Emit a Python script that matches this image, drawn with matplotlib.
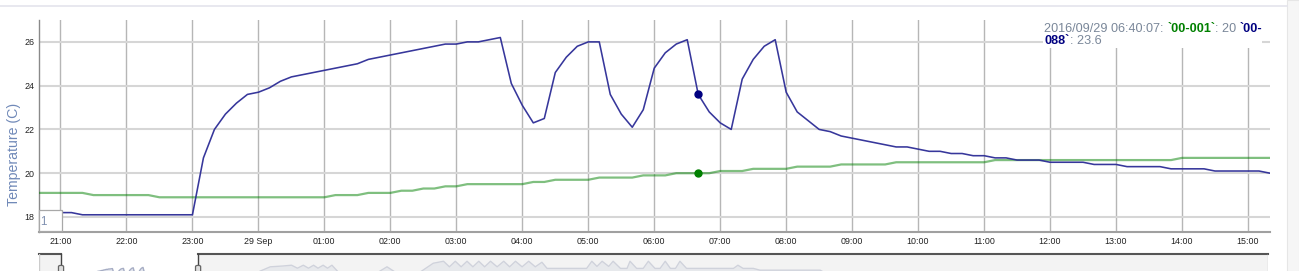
import matplotlib
matplotlib.use("Agg")
import matplotlib.pyplot as plt
import matplotlib.dates as mdates
from matplotlib.patches import Rectangle, FancyBboxPatch
from matplotlib.lines import Line2D
from matplotlib.font_manager import FontProperties
import numpy as np
import pandas as pd

plt.rcParams['font.family'] = ['Liberation Sans', 'DejaVu Sans']

W, H = 1299, 271

# ---------------- data ----------------
sample_start = "2016-09-28 20:40:07"
sample_step = "10min"
series_names = ["00-001", "00-088"]

temp_001 = [
    19.1, 19.1,
    19.1, 19.1, 19.1, 19.0, 19.0, 19.0,
    19.0, 19.0, 19.0, 18.9, 18.9, 18.9,
    18.9, 18.9, 18.9, 18.9, 18.9, 18.9,
    18.9, 18.9, 18.9, 18.9, 18.9, 18.9,
    18.9, 19.0, 19.0, 19.0, 19.1, 19.1,
    19.1, 19.2, 19.2, 19.3, 19.3, 19.4,
    19.4, 19.5, 19.5, 19.5, 19.5, 19.5,
    19.5, 19.6, 19.6, 19.7, 19.7, 19.7,
    19.7, 19.8, 19.8, 19.8, 19.8, 19.9,
    19.9, 19.9, 20.0, 20.0, 20.0, 20.0,
    20.1, 20.1, 20.1, 20.2, 20.2, 20.2,
    20.2, 20.3, 20.3, 20.3, 20.3, 20.4,
    20.4, 20.4, 20.4, 20.4, 20.5, 20.5,
    20.5, 20.5, 20.5, 20.5, 20.5, 20.5,
    20.5, 20.6, 20.6, 20.6, 20.6, 20.6,
    20.6, 20.6, 20.6, 20.6, 20.6, 20.6,
    20.6, 20.6, 20.6, 20.6, 20.6, 20.6,
    20.7, 20.7, 20.7, 20.7, 20.7, 20.7,
    20.7, 20.7, 20.7,
]

temp_088 = [
    18.2, 18.2,
    18.2, 18.2, 18.1, 18.1, 18.1, 18.1,
    18.1, 18.1, 18.1, 18.1, 18.1, 18.1,
    18.1, 20.7, 22.0, 22.7, 23.2, 23.6,
    23.7, 23.9, 24.2, 24.4, 24.5, 24.6,
    24.7, 24.8, 24.9, 25.0, 25.2, 25.3,
    25.4, 25.5, 25.6, 25.7, 25.8, 25.9,
    25.9, 26.0, 26.0, 26.1, 26.2, 24.1,
    23.1, 22.3, 22.5, 24.6, 25.3, 25.8,
    26.0, 26.0, 23.6, 22.7, 22.1, 22.9,
    24.8, 25.5, 25.9, 26.1, 23.6, 22.8,
    22.3, 22.0, 24.3, 25.2, 25.8, 26.1,
    23.7, 22.8, 22.4, 22.0, 21.9, 21.7,
    21.6, 21.5, 21.4, 21.3, 21.2, 21.2,
    21.1, 21.0, 21.0, 20.9, 20.9, 20.8,
    20.8, 20.7, 20.7, 20.6, 20.6, 20.6,
    20.5, 20.5, 20.5, 20.5, 20.4, 20.4,
    20.4, 20.3, 20.3, 20.3, 20.3, 20.2,
    20.2, 20.2, 20.2, 20.1, 20.1, 20.1,
    20.1, 20.1, 20.0,
]

tick_times = ["2016-09-28 21:00", "2016-09-28 22:00", "2016-09-28 23:00",
              "2016-09-29 00:00", "2016-09-29 01:00", "2016-09-29 02:00",
              "2016-09-29 03:00", "2016-09-29 04:00", "2016-09-29 05:00",
              "2016-09-29 06:00", "2016-09-29 07:00", "2016-09-29 08:00",
              "2016-09-29 09:00", "2016-09-29 10:00", "2016-09-29 11:00",
              "2016-09-29 12:00", "2016-09-29 13:00", "2016-09-29 14:00",
              "2016-09-29 15:00"]
tick_labels = ["21:00", "22:00", "23:00", "29 Sep", "01:00", "02:00", "03:00",
               "04:00", "05:00", "06:00", "07:00", "08:00", "09:00", "10:00",
               "11:00", "12:00", "13:00", "14:00", "15:00"]
y_ticks = [18, 20, 22, 24, 26]
y_label = "Temperature (C)"
highlight_index = 60          # 2016/09/29 06:40:07
highlight_label = "2016/09/29 06:40:07"
roll_period = "1"

# overview (range selector) data, hours relative to sample_start
overview_before_hours = [-3.07, -0.2]
overview_before_values = [18.6, 18.6]
overview_after_hours = [19.0, 25.5, 27.1, 28.5, 30.2, 31.4, 32.2, 33.0, 33.7, 34.4,
                        35.0, 35.7, 36.3, 36.9, 38.0, 42.8, 44.4, 45.9, 48.5, 49.1,
                        50.7, 52.1, 52.9, 53.7, 54.5, 55.3, 56.1, 56.9, 57.7, 58.5,
                        59.4, 60.3, 61.1, 61.9, 62.8, 63.7, 64.6, 65.5, 66.2, 71.6,
                        72.3, 73.0, 73.7, 74.6, 75.2, 76.2, 77.1, 77.5, 78.4, 79.3,
                        80.0, 80.9, 81.6, 82.3, 83.0, 83.7, 84.3, 85.2, 91.6, 92.2,
                        92.9, 94.3, 95.2, 103.4, 104.8, 164.4]
overview_after_values = [20.3, 20.5, 22.2, 23.3, 23.5, 23.7, 22.95, 23.7, 22.95, 23.7,
                         22.95, 23.7, 22.95, 23.7, 21.5, 21.5, 23.3, 21.5, 21.5, 22.2,
                         24.2, 24.7, 23.3, 24.7, 23.3, 24.7, 23.3, 24.7, 23.3, 24.7,
                         23.3, 24.7, 23.3, 24.7, 23.3, 24.7, 23.3, 24.45, 22.9, 22.9,
                         24.7, 23.4, 24.7, 23.4, 24.7, 22.9, 22.9, 24.7, 22.9, 22.9,
                         24.7, 22.9, 22.9, 24.7, 22.9, 22.9, 24.7, 22.9, 22.9, 23.7,
                         22.9, 22.9, 22.45, 22.45, 21.0, 20.5]

# ---------------- helpers ----------------
def fx(px):
    return px / W

def fy(py):
    return (H - py) / H

times = pd.date_range(sample_start, periods=len(temp_088), freq=sample_step)
tnum = mdates.date2num(times.to_pydatetime())

fig = plt.figure(figsize=(W / 100, H / 100), dpi=100)
fig.patch.set_facecolor("white")

# page decorations
fig.add_artist(Line2D([0, fx(1287)], [fy(6), fy(6)], color="#e4e4ec", lw=1.2,
                      transform=fig.transFigure))
fig.patches.append(Rectangle((fx(1287), 0), fx(W) - fx(1287), 1,
                             transform=fig.transFigure, facecolor="#f6f6f6",
                             edgecolor="#e6e6e6", lw=0.8, zorder=0))

# ---------------- main axes ----------------
ax_l, ax_r, ax_t, ax_b = 38.5, 1270, 20, 232.3
ax = fig.add_axes([fx(ax_l), fy(ax_b), fx(ax_r) - fx(ax_l), fy(ax_t) - fy(ax_b)])
ax.set_facecolor("white")

ax.plot(tnum, temp_001, color="#008000", alpha=0.5, lw=1.6, zorder=3,
        solid_joinstyle="round")
ax.plot(tnum, temp_088, color="#2c2c96", lw=1.15, zorder=4, alpha=0.95,
        solid_joinstyle="round")
ax.plot([tnum[highlight_index]], [temp_001[highlight_index]], "o", color="#008000",
        ms=5, zorder=5)
ax.plot([tnum[highlight_index]], [temp_088[highlight_index]], "o", color="#000080",
        ms=5, zorder=5)

ax.set_xlim(tnum[0], tnum[-1])
ax.set_ylim(17.3, 27.0)

tick_nums = mdates.date2num(pd.to_datetime(tick_times).to_pydatetime())
ax.set_xticks(tick_nums)
ax.set_xticklabels(tick_labels)
ax.set_yticks(y_ticks)
ax.set_yticklabels([str(v) for v in y_ticks])
ax.tick_params(length=0, labelsize=6.4, colors="#222222")
ax.tick_params(axis="x", pad=3.2)
ax.tick_params(axis="y", pad=3.0)

ax.grid(axis="y", color="#d6d6d6", lw=1.5, zorder=1)
ax.grid(axis="x", color="#b6b6b6", lw=1.0, zorder=1)
ax.set_axisbelow(True)

for s in ["top", "right"]:
    ax.spines[s].set_visible(False)
ax.spines["left"].set_color("#8a8a8a")
ax.spines["left"].set_linewidth(1.0)
ax.spines["bottom"].set_color("#a0a0a0")
ax.spines["bottom"].set_linewidth(1.5)

fig.text(fx(14.3), fy(154.5), y_label, rotation=90, ha="center", va="center",
         fontsize=10.2, color="#7089b8")

# roll period box
fig.patches.append(Rectangle((fx(38.7), fy(230.7)), fx(62.3) - fx(38.7),
                             fy(210) - fy(230.7), transform=fig.transFigure,
                             facecolor="white", edgecolor="#a8a8a8", lw=0.9, zorder=6))
fig.text(fx(40.2), fy(225.3), roll_period, fontsize=8.4, color="#8090b0",
         ha="left", va="baseline", zorder=7)

# legend box (white) covering grid
fig.patches.append(Rectangle((fx(1043), fy(48.3)), fx(1262) - fx(1043),
                             fy(20) - fy(48.3), transform=fig.transFigure,
                             facecolor="white", edgecolor="none", zorder=6))

renderer = fig.canvas.get_renderer()
gray = "#7a8799"
green = "#008000"
navy = "#000080"
legend_lines = [
    [(highlight_label + ": ", gray, "normal"),
     ("`" + series_names[0] + "`", green, "bold"),
     (": %g " % temp_001[highlight_index], gray, "normal"),
     ("`" + series_names[1][:3], navy, "bold")],
    [(series_names[1][3:] + "`", navy, "bold"),
     (": %g" % temp_088[highlight_index], gray, "normal")],
]
legend_x0 = 1044.3
legend_baselines = [31.7, 44.3]
lfs = 9.1
for line, base in zip(legend_lines, legend_baselines):
    x = legend_x0
    for txt, col, wt in line:
        fp = FontProperties(family=["Liberation Sans", "DejaVu Sans"], size=lfs, weight=wt)
        fig.text(x / W, fy(base), txt, fontproperties=fp, color=col,
                 ha="left", va="baseline", zorder=8)
        w1, _, _ = renderer.get_text_width_height_descent(txt + "x", fp, ismath=False)
        w2, _, _ = renderer.get_text_width_height_descent("x", fp, ismath=False)
        x += (w1 - w2)

# ---------------- overview (range selector) ----------------
ov_l, ov_r, ov_t, ov_b = 38.5, 1268, 254.3, 294
ov = fig.add_axes([fx(ov_l), fy(ov_b), fx(ov_r) - fx(ov_l), fy(ov_t) - fy(ov_b)])
ov.set_facecolor("white")
win_hours = (tnum - tnum[0]) * 24.0
win_avg = (np.array(temp_001) + np.array(temp_088)) / 2.0
ov_h = np.concatenate([overview_before_hours, win_hours, overview_after_hours])
ov_v = np.concatenate([overview_before_values, win_avg, overview_after_values])
ov_ylo, ov_yhi = 16.45, 26.45
ov.fill_between(ov_h, ov_v, ov_ylo, color="#e2e5ee", lw=0, zorder=1)
ov.plot(ov_h, ov_v, color="#a6adc4", lw=1.0, zorder=2)
ov.set_xlim(overview_before_hours[0], overview_after_hours[-1])
ov.set_ylim(ov_ylo, ov_yhi)
ov.set_xticks([])
ov.set_yticks([])
for s in ov.spines.values():
    s.set_visible(False)
win_end = win_hours[-1]
ov.axvspan(overview_before_hours[0], 0, color="#ececec", alpha=0.6, lw=0, zorder=3)
ov.axvspan(win_end, overview_after_hours[-1], color="#ececec", alpha=0.6, lw=0, zorder=3)
ov.plot([overview_before_hours[0], 0], [ov_yhi, ov_yhi], color="#555555", lw=1.5,
        zorder=4, clip_on=False)
ov.plot([win_end, overview_after_hours[-1]], [ov_yhi, ov_yhi], color="#555555",
        lw=1.5, zorder=4, clip_on=False)
ov.axvline(overview_before_hours[0], color="#cccccc", lw=1, zorder=4)
ov.axvline(overview_after_hours[-1], color="#cccccc", lw=1, zorder=4)
for hx in [0, win_end]:
    ov.plot([hx, hx], [ov_yhi, ov_yhi - 2.8], color="#444444", lw=1.0, zorder=5,
            clip_on=False)
    ov.add_patch(FancyBboxPatch((hx - 0.35, ov_yhi - 5.2), 0.7, 2.4,
                                boxstyle="round,pad=0,rounding_size=0.3",
                                facecolor="#dddddd", edgecolor="#666666", lw=0.9,
                                zorder=6, mutation_aspect=1))

fig.savefig("out.png", dpi=100)
